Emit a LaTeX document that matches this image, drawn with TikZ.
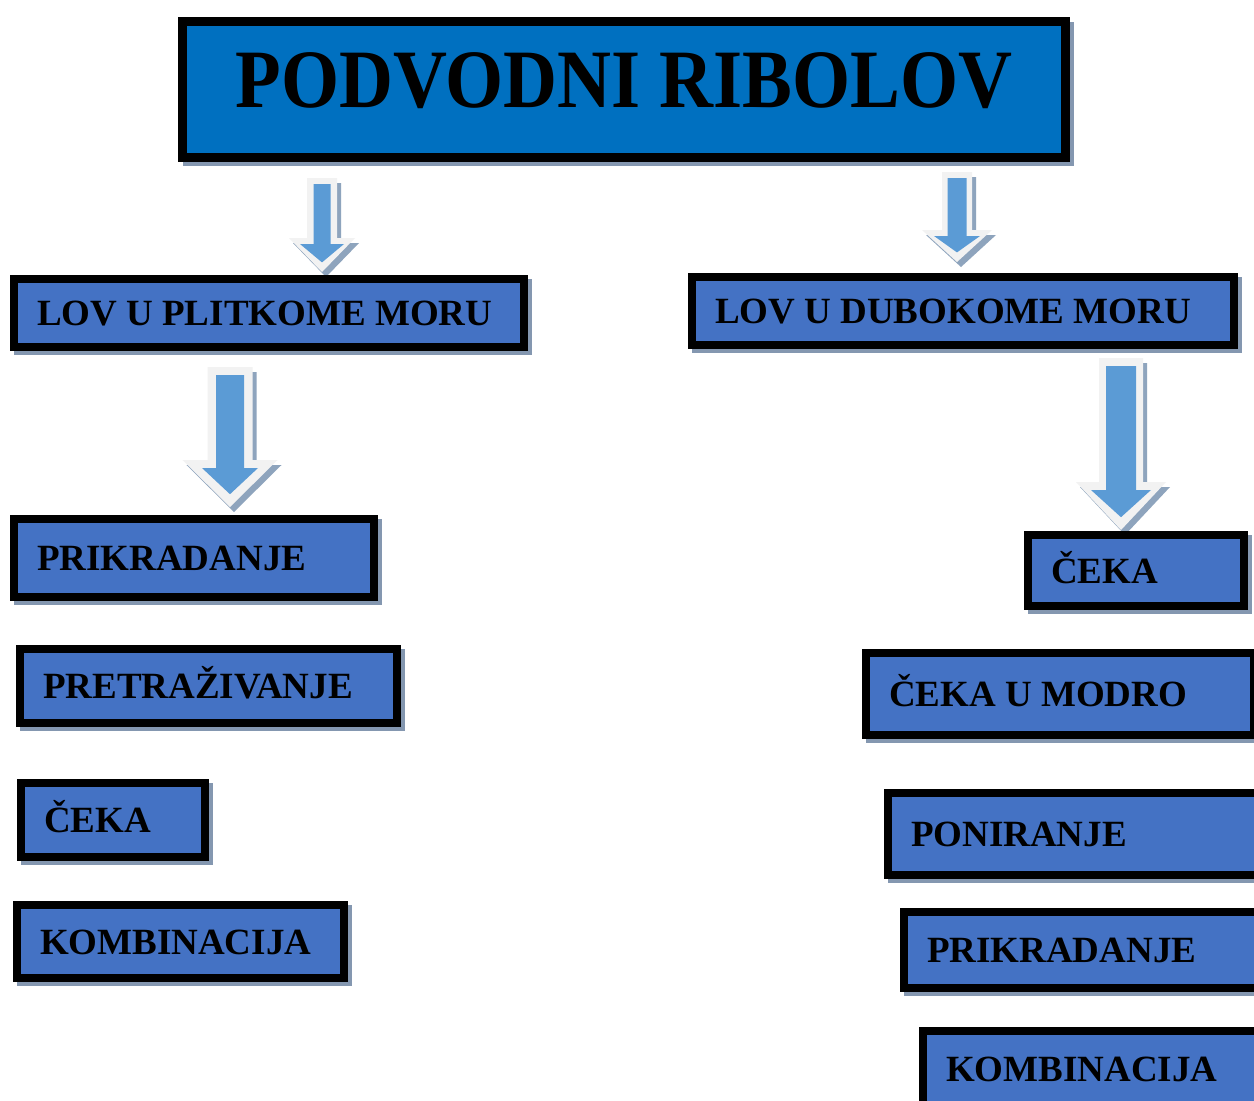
\documentclass[tikz,border=0pt]{standalone}
\usepackage{fontspec}
\setmainfont{Liberation Serif}
\usepackage{graphicx}
\definecolor{titleblue}{HTML}{0070C0}
\definecolor{boxblue}{HTML}{4472C4}
\definecolor{shadowc}{HTML}{8497B0}
\definecolor{arrgray}{HTML}{F2F2F2}
\definecolor{arrblue}{HTML}{5B9BD5}
\definecolor{arrshadow}{HTML}{8EA4BD}
\tikzset{
  boxshadow/.style={preaction={draw=shadowc, fill=shadowc, line width=8pt,
      transform canvas={shift={(4pt,-4pt)}}}},
  box/.style={boxshadow, draw=black, line width=8pt, fill=boxblue, outer sep=0pt,
      inner xsep=23pt, inner ysep=0pt, text height=25pt, text depth=0pt,
      anchor=north west, font=\fontsize{37}{40}\selectfont\bfseries},
  titlebox/.style={boxshadow, draw=black, line width=9pt, fill=titleblue, outer sep=0pt,
      inner sep=0pt, text height=55pt, text depth=20pt, anchor=north west, align=center,
      font=\fontsize{83}{90}\selectfont\bfseries},
  arrowouter/.style={fill=arrgray},
  arrowinner/.style={fill=arrblue},
  arrowshadow/.style={fill=arrshadow},
}
% name, x1, y1, x2, y2 (outer edges, px from top-left), text
\newcommand\bbox[6]{%
  \pgfmathsetmacro\bw{#4-#2-8}\pgfmathsetmacro\bh{#5-#3-8}\pgfmathsetmacro\tw{#4-#2-8-46}%
  \node[box, minimum width=\bw pt, minimum height=\bh pt] (#1) at (#2+4,-#3-4)
    {\makebox[\tw pt][l]{#6}};}
% cx, top, heady, tip, shaft half, head half, inner shaft half, inner head half, inset
\newcommand\barrow[9]{%
  \pgfmathsetmacro\itop{#2+#9}\pgfmathsetmacro\ihead{#3+#9}\pgfmathsetmacro\itip{#4-1.6*#9}%
  \fill[arrowshadow, shift={(4,-5)}] (#1-#5,-#2) -- (#1+#5,-#2) -- (#1+#5,-#3) -- (#1+#6,-#3)
     -- (#1,-#4) -- (#1-#6,-#3) -- (#1-#5,-#3) -- cycle;
  \fill[arrowouter] (#1-#5,-#2) -- (#1+#5,-#2) -- (#1+#5,-#3) -- (#1+#6,-#3)
     -- (#1,-#4) -- (#1-#6,-#3) -- (#1-#5,-#3) -- cycle;
  \fill[arrowinner] (#1-#7,-\itop) -- (#1+#7,-\itop) -- (#1+#7,-\ihead) -- (#1+#8,-\ihead)
     -- (#1,-\itip) -- (#1-#8,-\ihead) -- (#1-#7,-\ihead) -- cycle;}
\begin{document}
\begin{tikzpicture}[x=1pt,y=1pt]
\useasboundingbox (0,0) rectangle (1254,-1101);
\clip (0,0) rectangle (1254,-1101);
\fill[white] (0,0) rectangle (1254,-1101);
% title
\node[titlebox, minimum width=883pt, minimum height=136pt] (title) at (178+4.5,-17-4.5)
  {\scalebox{0.9}[1]{PODVODNI RIBOLOV}};
% arrows
\barrow{322}{178}{238}{272}{15}{33}{8.5}{22}{6}
\barrow{957}{172}{230}{262}{15}{35}{9.5}{23}{6}
\barrow{230}{367}{460}{507}{22.5}{47.5}{14}{28}{8}
\barrow{1121}{358}{482}{530}{22}{45}{15}{30}{8}
% left column
\bbox{plit}{10}{275}{528}{351}{LOV U PLITKOME MORU}
\bbox{prikl}{10}{515}{378}{601}{PRIKRADANJE}
\bbox{pret}{16}{645}{401}{727}{PRETRAŽIVANJE}
\bbox{cekal}{17}{779}{209}{861}{ČEKA}
\bbox{kombl}{13}{901}{348}{982}{KOMBINACIJA}
% right column
\bbox{dub}{688}{273}{1238}{349}{LOV U DUBOKOME MORU}
\bbox{cekar}{1024}{531}{1248}{610}{ČEKA}
\bbox{modro}{862}{649}{1258}{739}{ČEKA U MODRO}
\bbox{poni}{884}{789}{1300}{879}{PONIRANJE}
\bbox{prikr}{900}{908}{1300}{992}{PRIKRADANJE}
\bbox{kombr}{919}{1027}{1300}{1110}{KOMBINACIJA}
\end{tikzpicture}
\end{document}
